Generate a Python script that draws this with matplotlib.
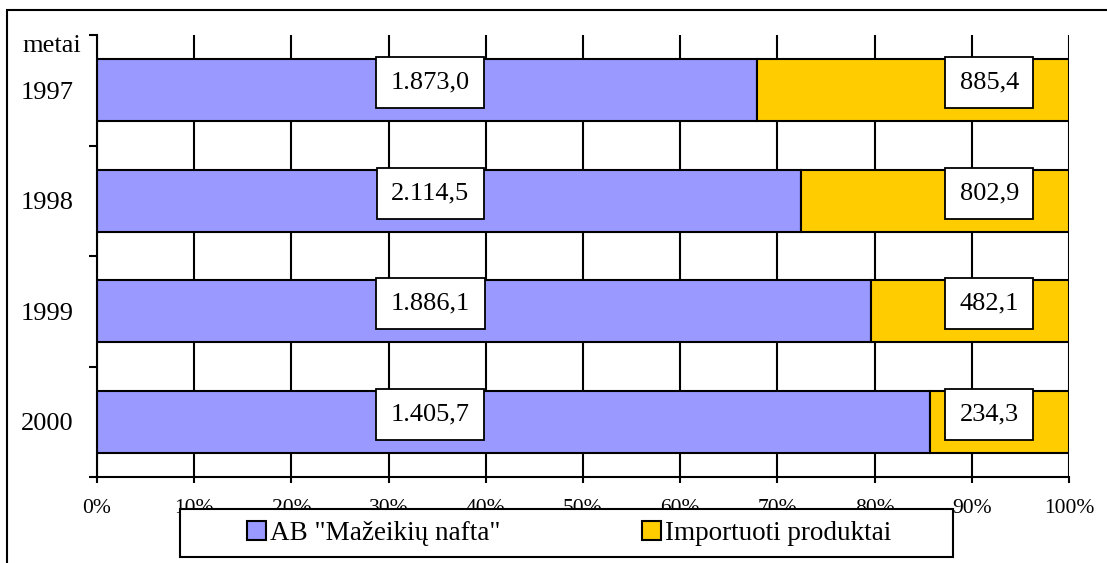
import numpy as np
import matplotlib.pyplot as plt
from matplotlib.patches import Rectangle

plt.rcParams['font.family'] = ['Liberation Serif', 'DejaVu Serif']

# data
years = ['1997', '1998', '1999', '2000']
mn_values = [1873.0, 2114.5, 1886.1, 1405.7]      # AB "Mažeikių nafta"
imp_values = [885.4, 802.9, 482.1, 234.3]         # Importuoti produktai
series_names = ['AB "Mažeikių nafta"', 'Importuoti produktai']
x_ticks = [0, 10, 20, 30, 40, 50, 60, 70, 80, 90, 100]


def lt_format(v):
    # 1873.0 -> 1.873,0
    s = '{:,.1f}'.format(v)
    return s.replace(',', ' ').replace('.', ',').replace(' ', '.')


mn = np.array(mn_values)
imp = np.array(imp_values)
total = mn + imp
mn_pct = mn / total * 100
imp_pct = imp / total * 100
ypos = np.arange(len(years))

W, H = 1107, 563
fig = plt.figure(figsize=(W / 100, H / 100), dpi=100)
ax = fig.add_axes([97 / W, 1 - 477 / H, 972 / W, 442 / H])

ax.barh(ypos, mn_pct, height=0.56, color='#9999FF', edgecolor='black', linewidth=1.5, zorder=3)
ax.barh(ypos, imp_pct, left=mn_pct, height=0.56, color='#FFCC00', edgecolor='black', linewidth=1.5, zorder=3)

# value labels in white boxes
box = dict(boxstyle='square,pad=0.55', fc='white', ec='black', lw=1.3)
for i in range(len(years)):
    ax.text(34.3, ypos[i] - 0.07, lt_format(mn_values[i]), ha='center', va='center',
            fontsize=19, bbox=box, zorder=5)
    ax.text(91.8, ypos[i] - 0.07, lt_format(imp_values[i]), ha='center', va='center',
            fontsize=19, bbox=box, zorder=5)

ax.set_xlim(0, 100)
ax.set_ylim(len(years) - 0.5, -0.5)
ax.set_xticks(x_ticks)
ax.set_xticklabels(['{}%'.format(t) for t in x_ticks], fontsize=15.5)
ax.set_yticks(np.arange(len(years) + 1) - 0.5)
ax.set_yticklabels([])
ax.set_yticks(ypos, years, minor=True)
ax.tick_params(axis='y', which='minor', length=0, pad=17, labelsize=19)
ax.tick_params(axis='y', which='major', direction='out', length=6, width=1.5)
ax.tick_params(axis='x', direction='out', length=4, width=1.5, pad=12)
ax.grid(axis='x', color='black', linewidth=1.5, zorder=0)
for s in ['top', 'right']:
    ax.spines[s].set_visible(False)
for s in ['left', 'bottom']:
    ax.spines[s].set_linewidth(1.5)
    ax.spines[s].set_zorder(4)

fig.text(81 / W, 1 - 46 / H, 'metai', ha='right', va='center', fontsize=19)

# legend with its own frame drawn over the tick labels
fig.patches.append(Rectangle((180 / W, 1 - 557 / H), 773 / W, 48 / H, transform=fig.transFigure,
                             fc='white', ec='black', lw=1.5, zorder=5))
handles = [Rectangle((0, 0), 1, 1, fc='#9999FF', ec='black', lw=1.5),
           Rectangle((0, 0), 1, 1, fc='#FFCC00', ec='black', lw=1.5)]
leg = fig.legend(handles, series_names, loc='center', ncol=2, frameon=False,
                 bbox_to_anchor=(569 / W, 1 - 533 / H), fontsize=19.5,
                 handlelength=0.7, handleheight=0.7, handletextpad=0.15, columnspacing=5.2)
leg.set_zorder(6)

# outer frame
fig.patches.append(Rectangle((7 / W, -0.1), 1.2, 1.1 - 10 / H, transform=fig.transFigure,
                             fill=False, ec='black', lw=1.5, zorder=7))

plt.savefig('out.png', dpi=100)
plt.close()
